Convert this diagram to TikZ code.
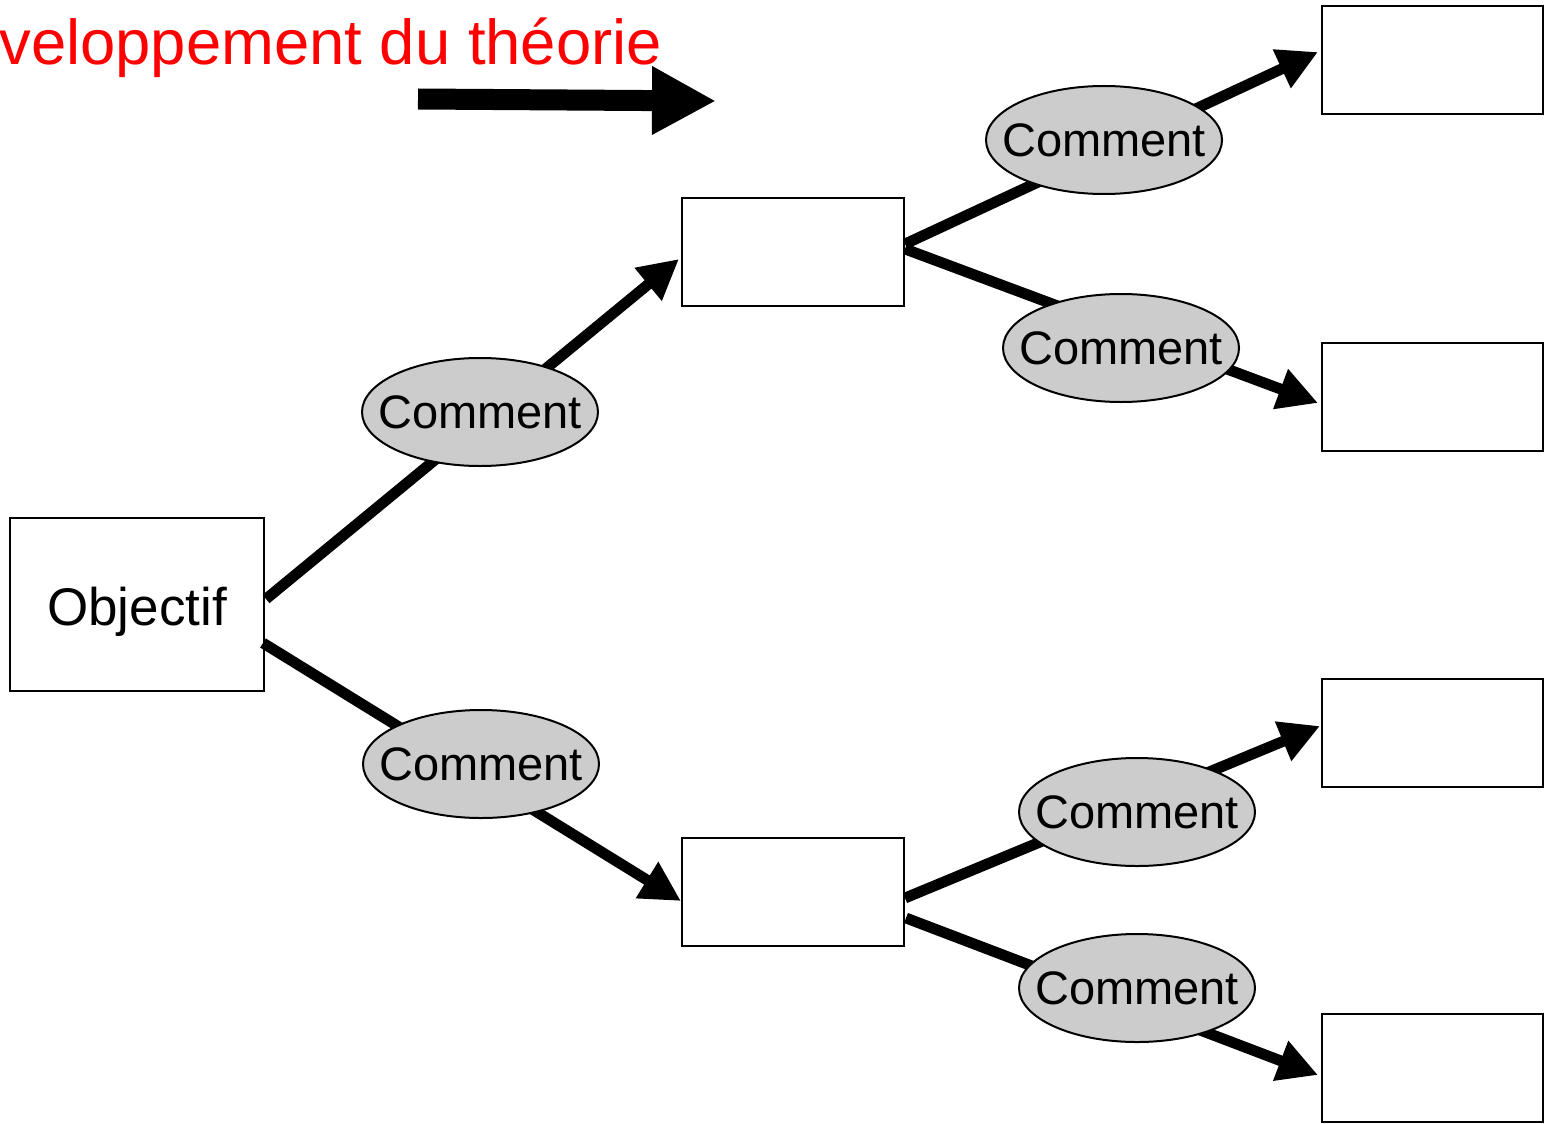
\documentclass[tikz,border=0pt]{standalone}
\usepackage{fontspec}
\setmainfont{Liberation Sans}
\usetikzlibrary{arrows.meta,calc,shapes.geometric}
\definecolor{ellgray}{HTML}{CCCCCC}
\definecolor{titlered}{HTML}{FF0000}
\begin{document}
\begin{tikzpicture}[x=0.5pt,y=-0.5pt,
  box/.style={draw=black,line width=1pt,fill=white,inner sep=0pt,outer sep=0pt,
    minimum width=110.5pt,minimum height=54pt},
  objbox/.style={box,minimum width=127pt,minimum height=86.5pt,font=\fontsize{26.5}{30}\selectfont},
  cmt/.style={ellipse,draw=black,line width=1pt,fill=ellgray,inner sep=0pt,
    minimum width=118pt,minimum height=54pt,font=\fontsize{23.5}{28}\selectfont},
  conn/.style={line width=5.4pt,-{Triangle[length=20pt,width=20pt]}},
  bigarrow/.style={line width=10.5pt,-{Triangle[length=32pt,width=32pt]}},
  titletext/.style={text=titlered,font=\fontsize{31.7}{36}\selectfont,inner sep=0pt,anchor=base west}]
\useasboundingbox (0,0) rectangle (1545,1123);
% title and big arrow
\node[titletext] (title) at (-1,65) {veloppement du théorie};
\coordinate (bigA) at (418,99);
\coordinate (bigB) at (716,101);
\draw[bigarrow] (bigA) -- (bigB);
% boxes
\node[objbox] (obj) at (137,604.5) {\raisebox{-10.5pt}[0pt][0pt]{Objectif}};
\node[box,minimum width=111pt] (b1) at (793,252) {};
\node[box,minimum width=111pt] (b2) at (793,892) {};
\node[box] (r1) at (1432.5,60.5) {};
\node[box] (r2) at (1432.5,396.5) {};
\node[box] (r3) at (1432.5,732.5) {};
\node[box] (r4) at (1432.5,1068) {};
% connectors
\draw[conn] ($(obj.east)+(2,-5.5)$) -- ($(b1.west)+(-3,7)$);
\draw[conn] ($(obj.east)+(-1,38.5)$) -- ($(b2.west)+(-1,9)$);
\draw[conn] ($(b1.east)+(1,-8)$) -- ($(r1.west)+(-4,-8.5)$);
\draw[conn] ($(b1.east)+(1,-3)$) -- ($(r2.west)+(-4,6.5)$);
\draw[conn] ($(b2.east)+(1,6)$) -- ($(r3.west)+(-2,-6.5)$);
\draw[conn] ($(b2.east)+(2,26)$) -- ($(r4.west)+(-4,7)$);
% comment ellipses
\node[cmt] (c1) at (480,412) {\makebox[0pt]{Comment}};
\node[cmt] (c2) at (481,764) {\makebox[0pt]{Comment}};
\node[cmt] (c3) at (1104,140) {\makebox[0pt]{Comment}};
\node[cmt] (c4) at (1121,348) {\makebox[0pt]{Comment}};
\node[cmt] (c5) at (1137,812) {\makebox[0pt]{Comment}};
\node[cmt] (c6) at (1137,988) {\makebox[0pt]{Comment}};
\end{tikzpicture}
\end{document}
